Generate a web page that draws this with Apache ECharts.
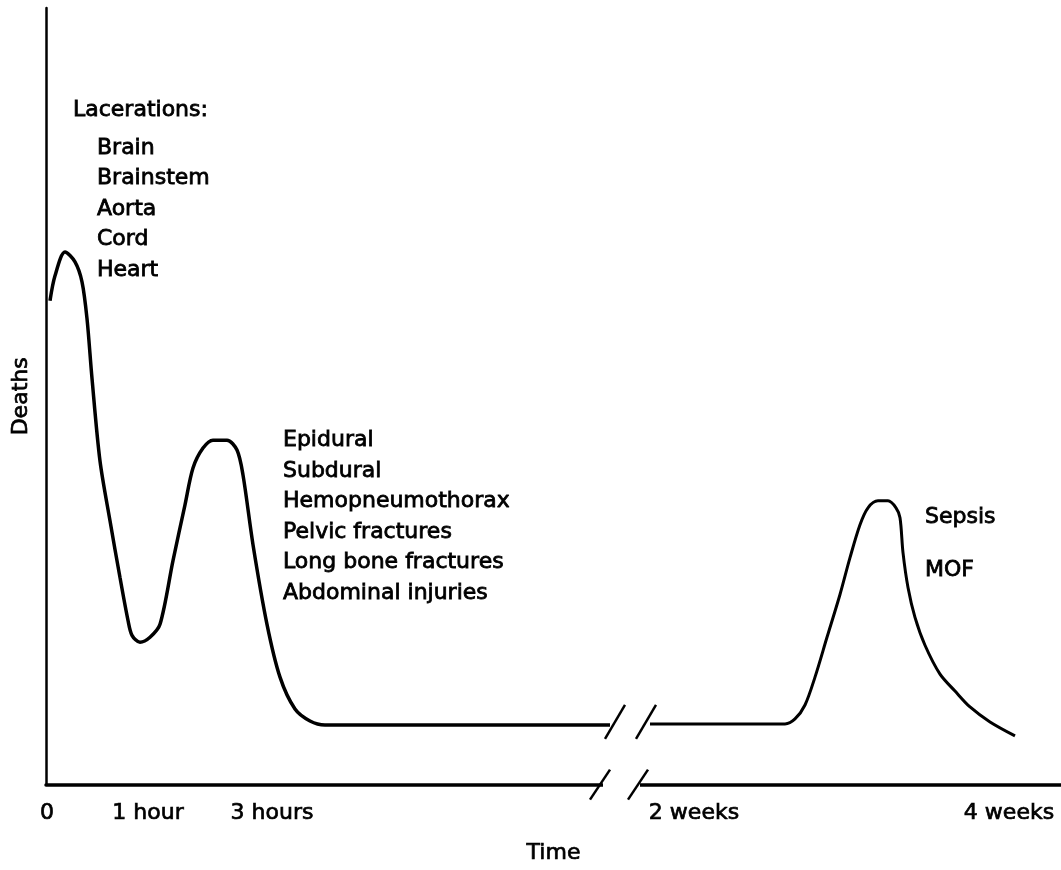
<!DOCTYPE html>
<html>
<head>
<meta charset="utf-8">
<script src="https://cdn.jsdelivr.net/npm/echarts@6/dist/echarts.min.js"></script>
<style>
  html, body { margin: 0; padding: 0; background: #fff; }
  #chart { width: 1061px; height: 870px; }
</style>
</head>
<body>
<div id="chart"></div>
<script>
// curve before the time-axis break (x = time position, y = deaths, arbitrary units)
var earlyX = [4, 9, 19, 29, 36, 41, 46, 54, 64, 74, 82, 86, 94, 104, 114, 127, 139, 147, 157, 167, 181, 191, 197, 207, 221, 234, 249, 264, 279, 564];
var earlyY = [486, 511, 535, 525, 505, 468, 408, 325, 265, 208, 165, 150, 143, 148, 161, 225, 281, 318, 338, 346, 346, 336, 311, 241, 161, 108, 76, 64, 60, 60];
// curve after the break
var lateX = [604, 739, 749, 759, 769, 781, 794, 804, 814, 822, 832, 842, 850, 854, 857, 862, 869, 879, 894, 909, 924, 944, 969];
var lateY = [61, 61, 66, 80, 108, 148, 191, 228, 261, 278, 285, 285, 278, 268, 233, 198, 168, 140, 111, 94, 78, 63, 49];

// tick labels on the time axis
var tickValues = [1, 102, 226, 648, 963];
var tickLabels = ['0', '1 hour', '3 hours', '2 weeks', '4 weeks'];

// break marks: [left slash x, right slash x, y]
var breaks = [[554, 592, 0], [569, 600, 63]];

// annotations
var lacerTitle = 'Lacerations:';
var lacerItems = ['Brain', 'Brainstem', 'Aorta', 'Cord', 'Heart'];
var secondPeak = ['Epidural', 'Subdural', 'Hemopneumothorax', 'Pelvic fractures', 'Long bone fractures', 'Abdominal injuries'];
var thirdPeak = ['Sepsis', 'MOF'];

function pairs(xs, ys) {
  return xs.map(function (x, i) { return [x, ys[i]]; });
}

var FONT = 'DejaVu Sans';
var txt = {
  fontFamily: FONT,
  fontSize: 22,
  fill: '#000',
  stroke: '#000',
  lineWidth: 0.8
};

function renderBreak(params, api) {
  var y = api.value(2);
  var a = api.coord([api.value(0), y]);
  var b = api.coord([api.value(1), y]);
  var h = y === 0 ? 15 : 17;
  var children = [];
  if (y === 0) {
    children.push({
      type: 'rect',
      shape: { x: a[0] + 3, y: a[1] - 6, width: b[0] - a[0] - 1, height: 12 },
      style: { fill: '#fff' }
    });
  }
  [a, b].forEach(function (p) {
    children.push({
      type: 'line',
      shape: { x1: p[0] - 10, y1: p[1] + h, x2: p[0] + 10, y2: p[1] - h },
      style: { stroke: '#000', lineWidth: 2.5 }
    });
  });
  return { type: 'group', children: children };
}

var myChart = echarts.init(document.getElementById('chart'));

var option = {
  backgroundColor: '#fff',
  animation: false,
  grid: { left: 46, right: 0, top: 8, bottom: 82 },
  xAxis: {
    type: 'value',
    min: 0,
    max: 1015,
    name: 'Time',
    nameLocation: 'middle',
    nameGap: 58,
    nameTextStyle: { fontFamily: FONT, fontSize: 22, color: '#000', textBorderColor: '#000', textBorderWidth: 0.7 },
    axisLine: { show: true, lineStyle: { color: '#000', width: 3.5 } },
    axisTick: { show: false },
    splitLine: { show: false },
    axisLabel: {
      customValues: tickValues,
      margin: 18,
      fontFamily: FONT,
      fontSize: 22,
      color: '#000',
      textBorderColor: '#000',
      textBorderWidth: 0.7,
      formatter: function (v) {
        var i = tickValues.indexOf(v);
        return i >= 0 ? tickLabels[i] : '';
      }
    }
  },
  yAxis: {
    type: 'value',
    min: 0,
    max: 780,
    name: 'Deaths',
    nameLocation: 'middle',
    nameGap: 14,
    nameTextStyle: { fontFamily: FONT, fontSize: 22, color: '#000', textBorderColor: '#000', textBorderWidth: 0.7 },
    axisLine: { show: true, lineStyle: { color: '#000', width: 2.5 } },
    axisTick: { show: false },
    axisLabel: { show: false },
    splitLine: { show: false }
  },
  graphic: [
    { type: 'text', x: 73, y: 95, style: Object.assign({ text: lacerTitle, lineHeight: 30 }, txt) },
    { type: 'text', x: 97, y: 133, style: Object.assign({ text: lacerItems.join('\n'), lineHeight: 30.5 }, txt) },
    { type: 'text', x: 283, y: 425, style: Object.assign({ text: secondPeak.join('\n'), lineHeight: 30.6 }, txt) },
    { type: 'text', x: 925, y: 491, style: Object.assign({ text: thirdPeak.join('\n'), lineHeight: 53 }, txt) }
  ],
  series: [
    {
      type: 'line',
      data: pairs(earlyX, earlyY),
      smooth: 0.3,
      showSymbol: false,
      lineStyle: { color: '#000', width: 3.5 }
    },
    {
      type: 'line',
      data: pairs(lateX, lateY),
      smooth: 0.3,
      showSymbol: false,
      lineStyle: { color: '#000', width: 3 }
    },
    {
      type: 'custom',
      renderItem: renderBreak,
      data: breaks,
      z: 5,
      silent: true
    }
  ]
};

myChart.setOption(option);
window.addEventListener('resize', function () {
  myChart.resize();
});
</script>
</body>
</html>
